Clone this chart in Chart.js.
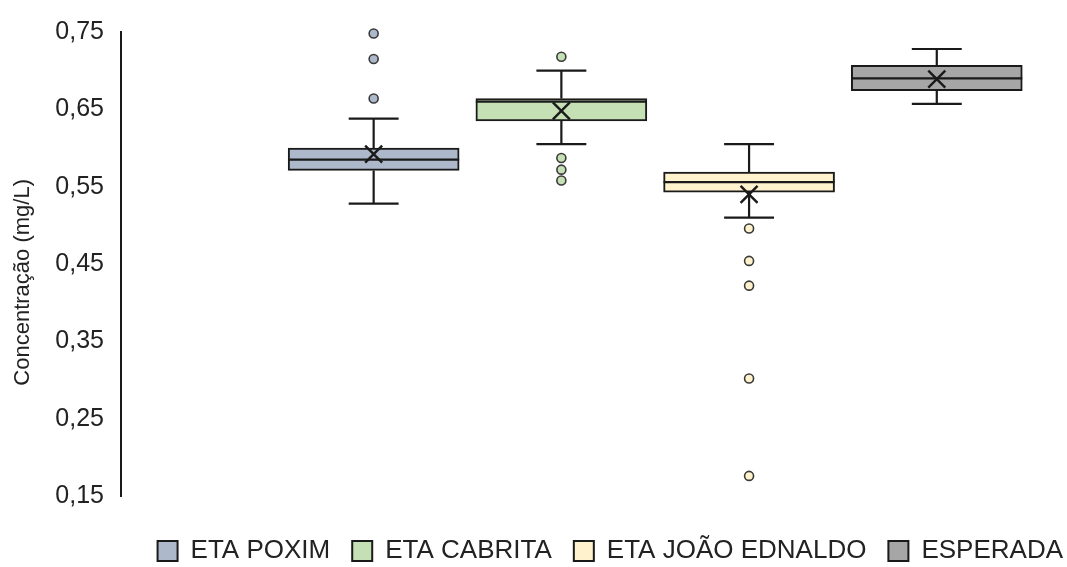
<!DOCTYPE html>
<html>
<head>
<meta charset="utf-8">
<script src="https://cdn.jsdelivr.net/npm/chart.js@4"></script>
<style>
  html, body { margin: 0; padding: 0; background: #fff; }
  #wrap { width: 1067px; height: 567px; }
</style>
</head>
<body>
<div id="wrap"><canvas id="chart"></canvas></div>
<script>
// categories and their slot on the x axis
const categories = ['ETA POXIM', 'ETA CABRITA', 'ETA JOÃO EDNALDO', 'ESPERADA'];
const positions = [1, 2, 3, 4];

// box plot statistics (mg/L)
const whiskerMin = [0.528, 0.605, 0.510, 0.657];
const q1 = [0.571, 0.635, 0.543, 0.674];
const median = [0.585, 0.660, 0.556, 0.690];
const q3 = [0.600, 0.664, 0.569, 0.707];
const whiskerMax = [0.638, 0.700, 0.605, 0.728];
const mean = [0.592, 0.648, 0.540, 0.689];
const outliers = [
  [0.748, 0.715, 0.664],
  [0.718, 0.587, 0.572, 0.558],
  [0.496, 0.454, 0.422, 0.302, 0.176],
  []
];

const yTicks = [0.15, 0.25, 0.35, 0.45, 0.55, 0.65, 0.75];
const colors = ['#adb9ca', '#c5e0b4', '#fff2cc', '#a6a6a6'];
const ink = '#1a1a1a';

// boxes (q1..q3) as floating bars
const boxSets = categories.map((name, i) => ({
  type: 'bar',
  label: name,
  data: [{ x: positions[i], y: [q1[i], q3[i]] }],
  backgroundColor: colors[i],
  borderColor: ink,
  borderWidth: 2,
  borderSkipped: false,
  grouped: false,
  barThickness: 171,
  order: 2
}));

// outlier points
const outlierSets = categories.map((name, i) => ({
  type: 'scatter',
  label: name + ' outliers',
  data: outliers[i].map(v => ({ x: positions[i], y: v })),
  pointRadius: 4.5,
  pointBackgroundColor: colors[i],
  pointBorderColor: '#3a3a3a',
  pointBorderWidth: 1.6,
  clip: false,
  order: 1
}));

// mean markers
const meanSet = {
  type: 'scatter',
  label: 'mean',
  data: positions.map((x, i) => ({ x, y: mean[i] })),
  pointStyle: 'crossRot',
  pointRadius: 12,
  pointBorderColor: ink,
  pointBorderWidth: 2.4,
  clip: false,
  order: 0
};

// whiskers + median line, using the chart scales
const boxPlotLines = {
  id: 'boxPlotLines',
  afterDatasetsDraw(chart) {
    const { ctx, scales: { x, y } } = chart;
    ctx.save();
    ctx.strokeStyle = ink;
    ctx.lineWidth = 2.2;
    categories.forEach((name, i) => {
      const bar = chart.getDatasetMeta(i).data[0];
      const cx = x.getPixelForValue(positions[i]);
      const half = bar.width / 2;
      const cap = bar.width * 0.146;
      ctx.beginPath();
      // median
      ctx.moveTo(cx - half, y.getPixelForValue(median[i]));
      ctx.lineTo(cx + half, y.getPixelForValue(median[i]));
      // upper whisker
      ctx.moveTo(cx, y.getPixelForValue(q3[i]));
      ctx.lineTo(cx, y.getPixelForValue(whiskerMax[i]));
      ctx.moveTo(cx - cap, y.getPixelForValue(whiskerMax[i]));
      ctx.lineTo(cx + cap, y.getPixelForValue(whiskerMax[i]));
      // lower whisker
      ctx.moveTo(cx, y.getPixelForValue(q1[i]));
      ctx.lineTo(cx, y.getPixelForValue(whiskerMin[i]));
      ctx.moveTo(cx - cap, y.getPixelForValue(whiskerMin[i]));
      ctx.lineTo(cx + cap, y.getPixelForValue(whiskerMin[i]));
      ctx.stroke();
    });
    ctx.restore();
  }
};

Chart.defaults.font.family = '"Liberation Sans", Arial, sans-serif';
Chart.defaults.color = '#222';

new Chart(document.getElementById('chart'), {
  data: { datasets: [...boxSets, ...outlierSets, meanSet] },
  options: {
    responsive: true,
    maintainAspectRatio: false,
    animation: false,
    layout: { padding: { top: 27, right: -18, bottom: -7, left: 0 } },
    plugins: {
      tooltip: { enabled: false },
      legend: {
        position: 'bottom',
        align: 'end',
        title: { display: true, text: ' ', font: { size: 10 }, padding: 4 },
        labels: {
          filter: item => item.datasetIndex < categories.length,
          boxWidth: 20,
          boxHeight: 20,
          padding: 22,
          color: '#222',
          font: { size: 26 }
        }
      }
    },
    scales: {
      x: {
        type: 'linear',
        display: false,
        offset: false,
        min: -0.346,
        max: 4.617
      },
      y: {
        min: 0.15,
        max: 0.75,
        afterBuildTicks: scale => { scale.ticks = yTicks.map(v => ({ value: v })); },
        afterFit: scale => { scale.width = 121; },
        grid: { display: false, drawTicks: false },
        border: { display: true, color: ink, width: 2 },
        ticks: {
          padding: 17,
          font: { size: 25 },
          color: '#222',
          callback: v => v.toFixed(2).replace('.', ',')
        },
        title: {
          display: true,
          text: 'Concentração (mg/L)      ',
          font: { size: 22 },
          color: '#222',
          padding: { top: 10, bottom: 0 }
        }
      }
    }
  },
  plugins: [boxPlotLines]
});
</script>
</body>
</html>
